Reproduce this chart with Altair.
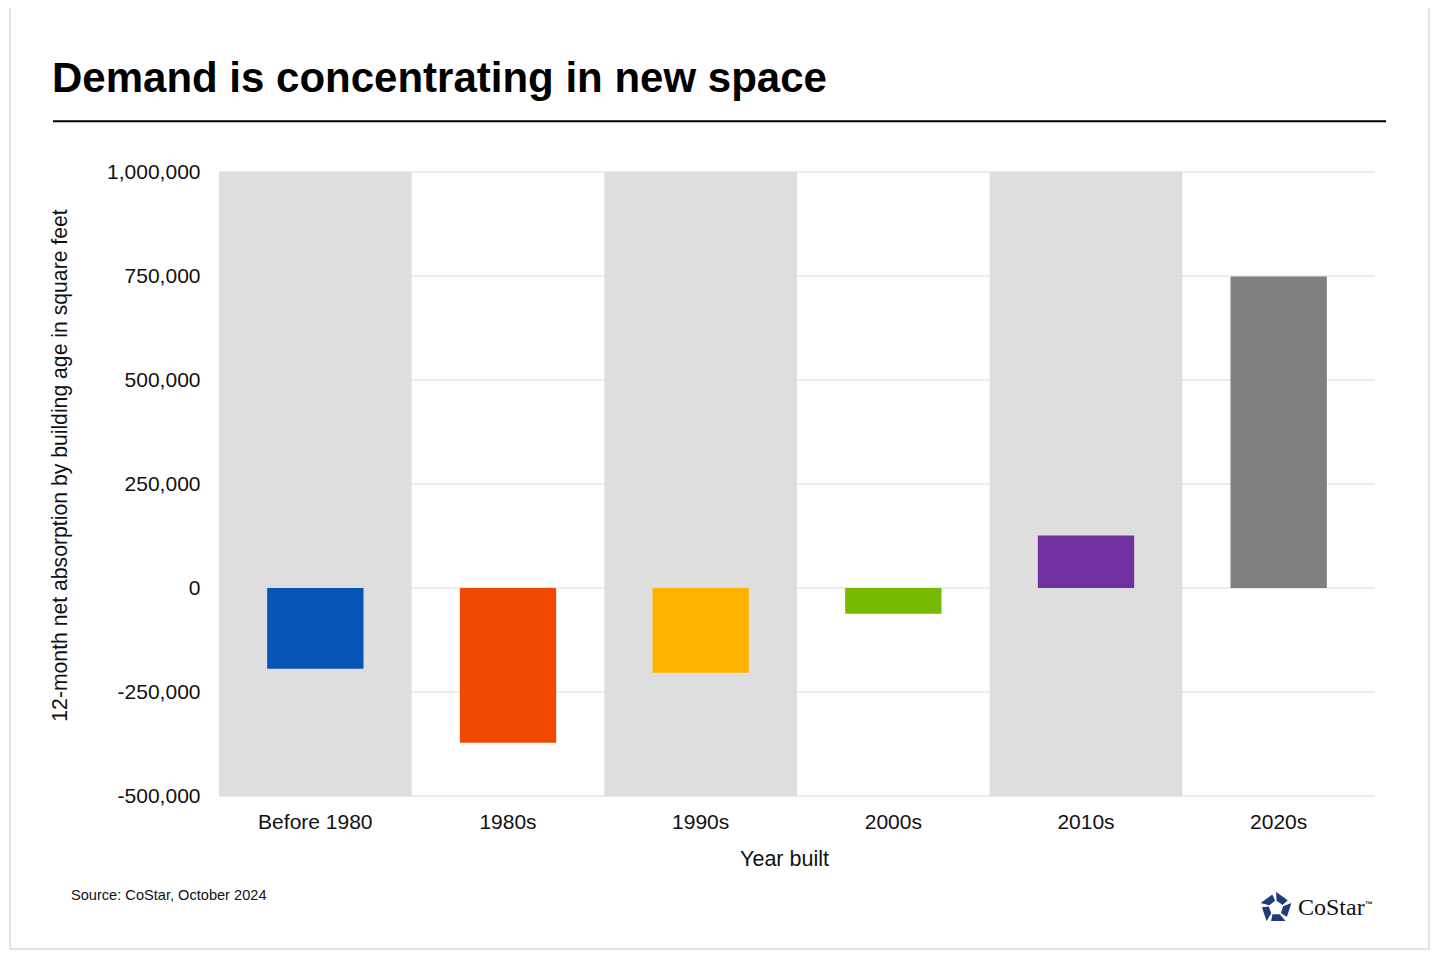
import math
import altair as alt
import pandas as pd

# ---- data ----
categories = ["Before 1980", "1980s", "1990s", "2000s", "2010s", "2020s"]
values = [-194000, -372000, -204000, -62000, 126000, 749000]
bar_colors = ["#0455B5", "#F04A00", "#FFB300", "#76B900", "#7030A0", "#808080"]
shaded = [True, False, True, False, True, False]
y_ticks = [-500000, -250000, 0, 250000, 500000, 750000, 1000000]

title_text = "Demand is concentrating in new space"
y_title = "12-month net absorption by building age in square feet"
x_title = "Year built"
source_text = "Source: CoStar, October 2024"
logo_text = "CoStar"
tm_text = "™"

FONT = "Liberation Sans"
W, H = 1156, 624

df = pd.DataFrame({"cat": categories, "value": values})
bands_df = pd.DataFrame({"cat": [c for c, s in zip(categories, shaded) if s]})
ticks_df = pd.DataFrame({"tick": y_ticks})

y_scale = alt.Scale(domain=[y_ticks[0], y_ticks[-1]], nice=False, zero=False)
y_axis = alt.Axis(
    values=y_ticks,
    labelExpr="(datum.value < 0 ? '-' : '') + format(abs(datum.value), ',')",
    domain=False, ticks=False, tickSize=0, grid=False,
    labelPadding=19, labelFontSize=21, labelFont=FONT, labelColor="#111111",
    title=y_title, titleFontSize=21.2, titleFont=FONT, titleFontWeight="normal",
    titleColor="#111111", titleX=-153, titleY=293, titleBaseline="alphabetic",
)

# background alternating bands
bands = alt.Chart(bands_df).mark_rect(color="#DEDEDE").encode(
    x=alt.X("cat:N", sort=categories,
            scale=alt.Scale(domain=categories, paddingInner=0, paddingOuter=0),
            axis=None),
    y=alt.YDatum(y_ticks[-1], type="quantitative", scale=y_scale, axis=y_axis),
    y2=alt.Y2Datum(y_ticks[0]),
)

# gridlines
grid = alt.Chart(ticks_df).mark_rule(color="#D9D9D9", strokeWidth=1).encode(
    y=alt.Y("tick:Q", scale=y_scale, axis=y_axis),
)

# bars
bars = alt.Chart(df).mark_bar().encode(
    x=alt.X("cat:N", sort=categories,
            scale=alt.Scale(domain=categories, paddingInner=0.5, paddingOuter=0.25),
            axis=alt.Axis(domain=False, ticks=False, tickSize=0, grid=False,
                          labelAngle=0, labelPadding=32, labelBaseline="alphabetic",
                          labelFontSize=21, labelFont=FONT, labelColor="#111111",
                          title=x_title, titleFontSize=21.5, titleFont=FONT,
                          titleFontWeight="normal", titleColor="#111111",
                          titleX=565, titleY=69, titleBaseline="alphabetic")),
    y=alt.Y("value:Q", scale=y_scale, axis=y_axis),
    color=alt.Color("cat:N", scale=alt.Scale(domain=categories, range=bar_colors),
                    legend=None),
)

# decorations
one = pd.DataFrame({"t": [""]})

border = alt.Chart(one).mark_rect(fillOpacity=0, stroke="#C8C8C8", strokeWidth=1).encode(
    x=alt.value(-209), x2=alt.value(1210), y=alt.value(-165), y2=alt.value(777)
)

title = alt.Chart(pd.DataFrame({"t": [title_text]})).mark_text(
    font=FONT, fontSize=42, fontWeight="bold", color="#000000",
    align="left", baseline="alphabetic"
).encode(text="t:N", x=alt.value(-167), y=alt.value(-80))

title_rule = alt.Chart(one).mark_rule(color="#000000", strokeWidth=2).encode(
    x=alt.value(-166), x2=alt.value(1167), y=alt.value(-50.7)
)

source = alt.Chart(pd.DataFrame({"t": [source_text]})).mark_text(
    font=FONT, fontSize=14.6, color="#111111", align="left", baseline="alphabetic"
).encode(text="t:N", x=alt.value(-148), y=alt.value(728))

logo_word = alt.Chart(pd.DataFrame({"t": [logo_text]})).mark_text(
    font="Liberation Serif", fontSize=24, color="#111111", align="left",
    baseline="alphabetic"
).encode(text="t:N", x=alt.value(1079), y=alt.value(743))

logo_tm = alt.Chart(pd.DataFrame({"t": [tm_text]})).mark_text(
    font=FONT, fontSize=8, fontWeight="bold", color="#111111", align="left",
    baseline="alphabetic"
).encode(text="t:N", x=alt.value(1146), y=alt.value(735))

# pinwheel pentagon icon path
R, r = 1.0, 0.45
parts = []
for k in range(5):
    a0 = -math.pi / 2 + 2 * math.pi * k / 5
    a1 = a0 + 2 * math.pi / 5
    o0 = (R * math.cos(a0), R * math.sin(a0))
    o1 = (R * math.cos(a1), R * math.sin(a1))
    p = (o0[0] + 0.76 * (o1[0] - o0[0]), o0[1] + 0.76 * (o1[1] - o0[1]))
    i1 = (r * math.cos(a1 - 0.12), r * math.sin(a1 - 0.12))
    i0 = (r * math.cos(a0 + 0.08), r * math.sin(a0 + 0.08))
    pts = [o0, p, i1, i0]
    parts.append("M" + " L".join(f"{x:.3f},{y:.3f}" for x, y in pts) + " Z")
icon_path = " ".join(parts)

icon = alt.Chart(one).mark_point(
    shape=icon_path, filled=True, color="#1D3C78", size=1050, strokeWidth=0, opacity=1
).encode(x=alt.value(1057), y=alt.value(736))

chart = alt.layer(
    border, bands, grid, bars, title, title_rule, source, logo_word, logo_tm, icon
).resolve_scale(x="independent").properties(
    width=W, height=H,
    padding={"left": 211, "top": 164, "right": 57, "bottom": 156},
    autosize=alt.AutoSizeParams(type="none"),
    background="#FFFFFF",
).configure_view(stroke=None)

chart.save("out.html", embed_options={"renderer": "svg", "actions": False})
